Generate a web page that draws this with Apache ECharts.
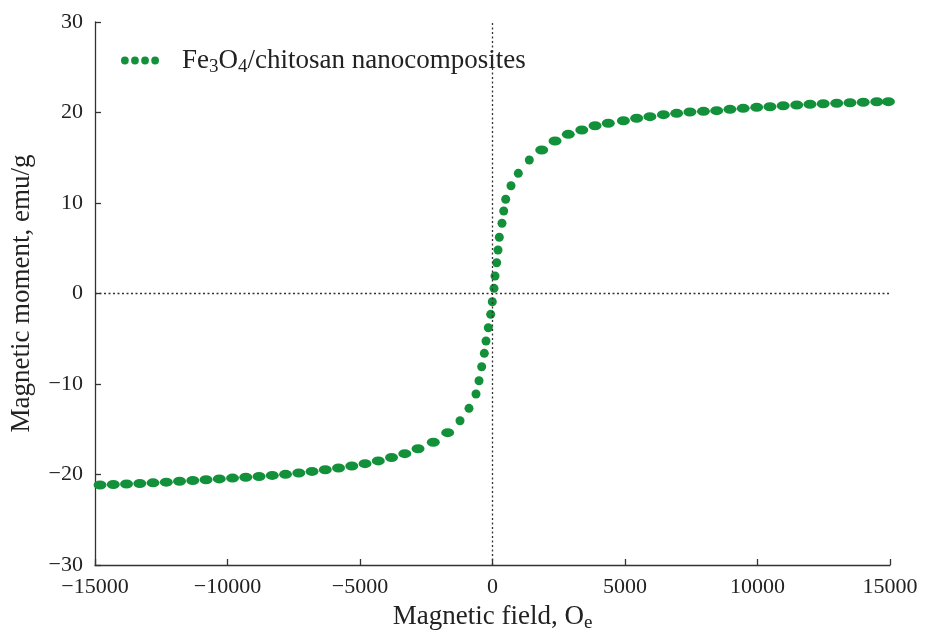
<!DOCTYPE html>
<html>
<head>
<meta charset="utf-8">
<script src="https://cdn.jsdelivr.net/npm/echarts@6/dist/echarts.min.js"></script>
<style>html,body{margin:0;padding:0;background:#fff;}#c{width:925px;height:632px;}</style>
</head>
<body>
<div id="c"></div>
<script>
// Field (Oe) and magnetic moment (emu/g)
const fieldOe = [
  -14810, -14310, -13810, -13310, -12810, -12310, -11810, -11310, -10810, -10310,
  -9810, -9310, -8810, -8310, -7810, -7310, -6810, -6310, -5810, -5310,
  -4810, -4310, -3810, -3310, -2810, -2234, -1691, -1226, -887, -623,
  -509, -408, -309, -245, -158, -68, -8, 57, 94, 158,
  208, 257, 358, 423, 498, 698, 974, 1389, 1857, 2360,
  2860, 3370, 3870, 4370, 4940, 5440, 5940, 6450, 6950, 7450,
  7960, 8460, 8960, 9460, 9970, 10470, 10970, 11480, 11980, 12480,
  12990, 13490, 13990, 14500, 14940
];
const momentEmu = [
  -21.16, -21.10, -21.05, -20.99, -20.92, -20.85, -20.75, -20.66, -20.58, -20.49,
  -20.40, -20.31, -20.22, -20.10, -19.98, -19.83, -19.66, -19.48, -19.28, -19.06,
  -18.80, -18.50, -18.12, -17.70, -17.15, -16.44, -15.38, -14.06, -12.69, -11.10,
  -9.64, -8.09, -6.61, -5.25, -3.78, -2.30, -0.91, 0.57, 1.93, 3.40,
  4.81, 6.21, 7.76, 9.12, 10.41, 11.91, 13.28, 14.75, 15.86, 16.85,
  17.59, 18.07, 18.54, 18.81, 19.09, 19.36, 19.54, 19.76, 19.91, 20.06,
  20.13, 20.20, 20.35, 20.46, 20.57, 20.64, 20.75, 20.83, 20.91, 20.97,
  21.02, 21.08, 21.13, 21.19, 21.20
];
const seriesName = 'Fe3O4/chitosan nanocomposites';
const xAxisTitle = 'Magnetic field, O{sub|e}';
const yAxisTitle = 'Magnetic moment, emu/g';

const pts = fieldOe.map((x, i) => [x, momentEmu[i]]);
const FONT = 'Liberation Serif';
const GREEN = '#12903a';
const fmtNum = v => (v < 0 ? '\u2212' + Math.abs(v) : String(v));
const subStyle = {fontFamily: FONT, fontSize: 19, color: '#222', padding: [14, 0, 0, 0]};

const chart = echarts.init(document.getElementById('c'), null, {renderer: 'canvas'});
chart.setOption({
  animation: false,
  backgroundColor: '#fff',
  grid: {left: 95, right: 35, top: 22, bottom: 67, containLabel: false, outerBoundsMode: 'none'},
  legend: {
    left: 116, top: 42,
    itemWidth: 38, itemHeight: 8,
    data: [{name: seriesName, icon: 'path://M0,5a5,5 0 1,0 10,0a5,5 0 1,0 -10,0M13,5a5,5 0 1,0 10,0a5,5 0 1,0 -10,0M26,5a5,5 0 1,0 10,0a5,5 0 1,0 -10,0M39,5a5,5 0 1,0 10,0a5,5 0 1,0 -10,0'}],
    formatter: () => 'Fe{sub|3}O{sub|4}/chitosan nanocomposites',
    textStyle: {
      fontFamily: FONT, fontSize: 27, color: '#222', padding: [0, 0, 0, 18],
      rich: {sub: subStyle}
    }
  },
  xAxis: {
    type: 'value', min: -15000, max: 15000, interval: 5000,
    name: xAxisTitle, nameLocation: 'middle', nameGap: 35,
    nameTextStyle: {fontFamily: FONT, fontSize: 27, color: '#222', rich: {sub: subStyle}},
    axisLine: {show: true, onZero: false, lineStyle: {color: '#333', width: 1.3}},
    axisTick: {show: true, inside: true, length: 6, lineStyle: {color: '#333', width: 1.3}},
    axisLabel: {fontFamily: FONT, fontSize: 22, color: '#222', margin: 11, formatter: fmtNum},
    splitLine: {show: false}
  },
  yAxis: {
    type: 'value', min: -30, max: 30, interval: 10,
    name: yAxisTitle, nameLocation: 'middle', nameGap: 60, nameRotate: 90,
    nameTextStyle: {fontFamily: FONT, fontSize: 27, color: '#222'},
    axisLine: {show: true, onZero: false, lineStyle: {color: '#333', width: 1.3}},
    axisTick: {show: true, inside: true, length: 6, lineStyle: {color: '#333', width: 1.3}},
    axisLabel: {fontFamily: FONT, fontSize: 22, color: '#222', margin: 12, formatter: fmtNum},
    splitLine: {show: false}
  },
  series: [{
    name: seriesName,
    type: 'scatter',
    data: pts,
    symbol: 'circle',
    symbolSize: v => (Math.abs(v[0]) > 1500 ? [13, 9] : 9),
    itemStyle: {color: GREEN, opacity: 1},
    markLine: {
      silent: true, symbol: 'none',
      label: {show: false},
      lineStyle: {color: '#333', width: 1.3, type: [2, 2.5]},
      data: [{xAxis: 0}, {yAxis: 0}]
    },
    z: 3
  }]
});
</script>
</body>
</html>
